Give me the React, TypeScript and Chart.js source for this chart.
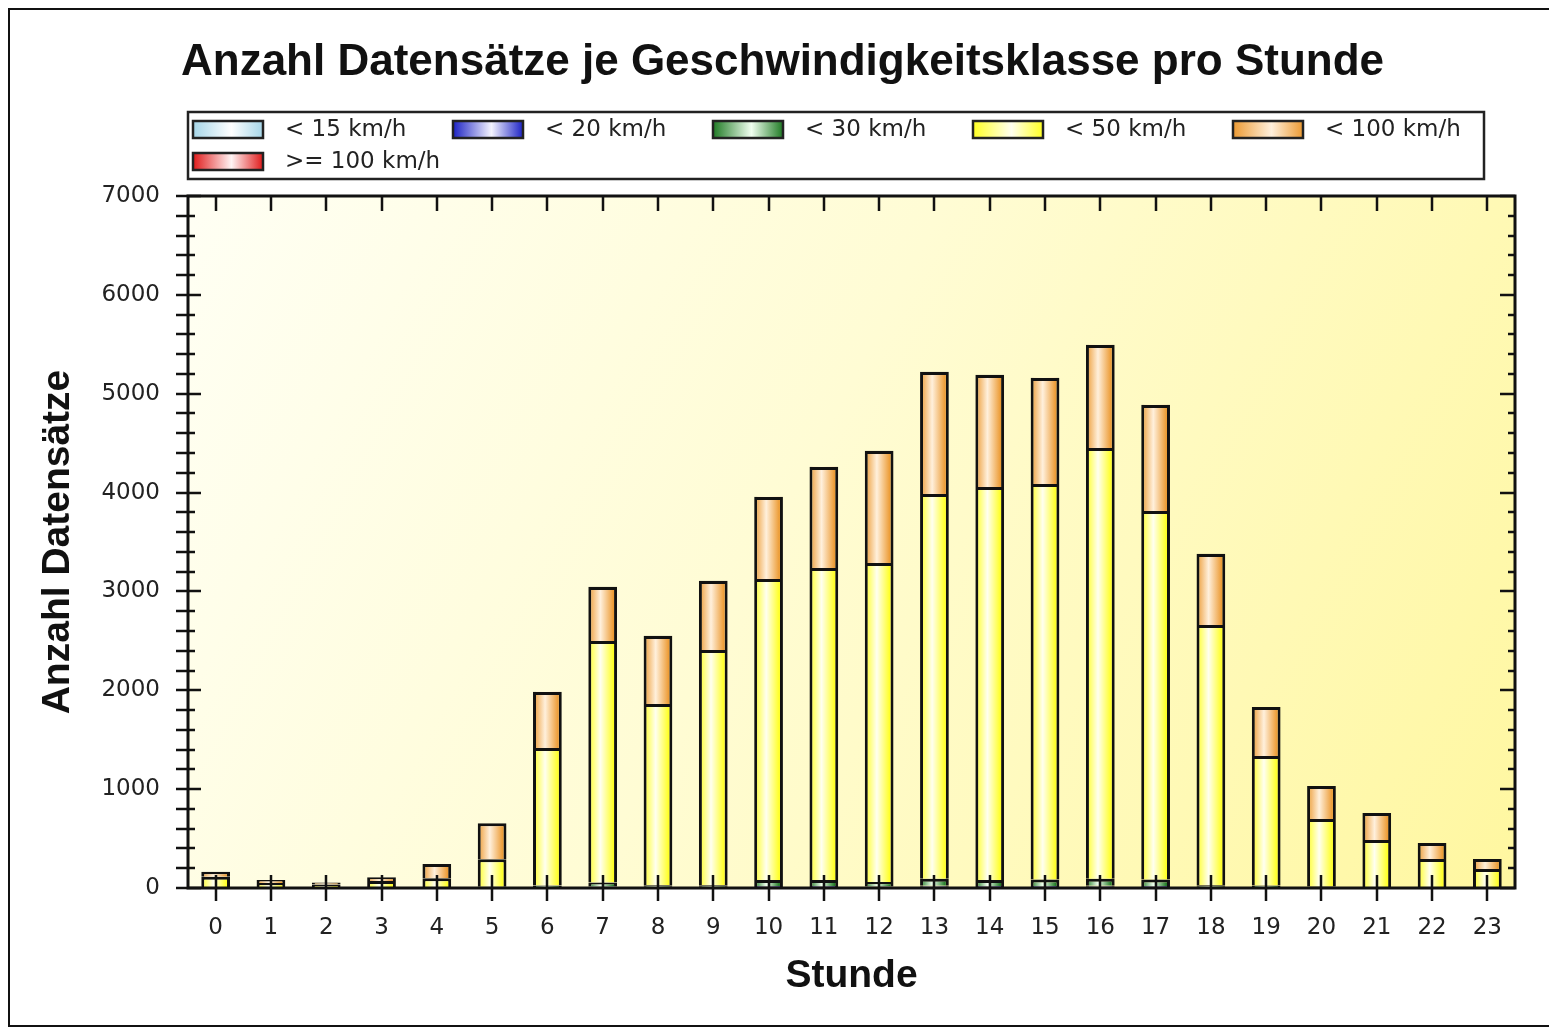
import { useEffect, useRef } from 'react';
import { Chart, registerables } from 'chart.js';

Chart.register(...registerables);

const hours = ['0', '1', '2', '3', '4', '5', '6', '7', '8', '9', '10', '11', '12', '13', '14', '15', '16', '17', '18', '19', '20', '21', '22', '23'];

const seriesLabels = ['< 15 km/h', '< 20 km/h', '< 30 km/h', '< 50 km/h', '< 100 km/h', '>= 100 km/h'];

const lt15 = [2, 1, 1, 1, 2, 3, 5, 8, 6, 6, 10, 10, 8, 12, 10, 10, 12, 10, 6, 5, 3, 2, 2, 1];
const lt20 = [2, 1, 1, 1, 2, 3, 5, 8, 6, 6, 10, 10, 8, 12, 10, 10, 12, 10, 6, 5, 3, 2, 2, 1];
const lt30 = [5, 3, 3, 3, 4, 6, 15, 40, 15, 15, 60, 60, 45, 70, 60, 65, 70, 65, 15, 15, 8, 5, 4, 3];
const lt50 = [105, 45, 30, 65, 90, 278, 1391, 2443, 1834, 2380, 3046, 3157, 3226, 3891, 3976, 4002, 4357, 3728, 2633, 1310, 684, 477, 285, 187];
const lt100 = [50, 30, 20, 38, 145, 364, 567, 546, 688, 698, 829, 1022, 1133, 1234, 1133, 1072, 1042, 1073, 718, 496, 334, 273, 162, 101];
const ge100 = [0, 0, 0, 0, 0, 1, 2, 2, 2, 2, 3, 3, 3, 3, 3, 3, 3, 3, 2, 1, 1, 0, 0, 0];

const seriesValues = [lt15, lt20, lt30, lt50, lt100, ge100];

const yMax = 7000;
const yStep = 1000;
const yMinorStep = 200;

const titleText = 'Anzahl Datensätze je Geschwindigkeitsklasse pro Stunde';
const xTitle = 'Stunde';
const yTitle = 'Anzahl Datensätze';

const edgeColors = ['#a6d6e8', '#1c22c4', '#1f7a24', '#ffff22', '#ec9a32', '#e01a1a'];
const centerColors = ['#ffffff', '#f4f4ff', '#f0fff0', '#fffff0', '#fff0dc', '#fff4f4'];

const W = 1541;
const H = 1015;
const BAR_FRACTION = 0.52;

function barGradient(ctx: any, si: number) {
  const chart = ctx.chart;
  const xs = chart.scales && chart.scales.x;
  if (!xs || ctx.type !== 'data') return edgeColors[si];
  const cx = xs.getPixelForValue(ctx.dataIndex);
  const w = (xs.width / hours.length) * BAR_FRACTION;
  if (!Number.isFinite(cx) || !Number.isFinite(w) || w <= 0) return edgeColors[si];
  const g = chart.ctx.createLinearGradient(cx - w / 2, 0, cx + w / 2, 0);
  g.addColorStop(0, edgeColors[si]);
  g.addColorStop(0.42, centerColors[si]);
  g.addColorStop(0.88, edgeColors[si]);
  g.addColorStop(1, edgeColors[si]);
  return g;
}

const backgroundPlugin = {
  id: 'plotBg',
  beforeDatasetsDraw(chart: any) {
    const { ctx, chartArea } = chart;
    const { left, right, top, bottom } = chartArea;
    ctx.save();
    const g = ctx.createLinearGradient(left, top, right, bottom);
    g.addColorStop(0, '#fffff4');
    g.addColorStop(0.45, '#fffcd4');
    g.addColorStop(1, '#fff7a0');
    ctx.fillStyle = g;
    ctx.fillRect(left, top, right - left, bottom - top);
    ctx.restore();
  },
};

const framePlugin = {
  id: 'frameTicks',
  afterDatasetsDraw(chart: any) {
    const { ctx, chartArea } = chart;
    const { left, right, top, bottom } = chartArea;
    const xs = chart.scales.x;
    const ys = chart.scales.y;
    ctx.save();
    ctx.strokeStyle = '#111';
    ctx.lineWidth = 3;
    ctx.strokeRect(left, top, right - left, bottom - top);
    ctx.lineWidth = 2.5;
    ctx.beginPath();
    for (let i = 0; i < hours.length; i++) {
      const px = Math.round(xs.getPixelForValue(i));
      ctx.moveTo(px, bottom - 13);
      ctx.lineTo(px, bottom + 13);
      ctx.moveTo(px, top);
      ctx.lineTo(px, top + 15);
    }
    for (let v = 0; v <= yMax; v += yMinorStep) {
      const py = Math.round(ys.getPixelForValue(v));
      const major = v % yStep === 0;
      ctx.moveTo(left - 12, py);
      ctx.lineTo(left + (major ? 13 : 7), py);
      ctx.moveTo(right - (major ? 15 : 7), py);
      ctx.lineTo(right, py);
    }
    ctx.stroke();
    ctx.restore();
  },
};

const titleLegendPlugin = {
  id: 'titleLegend',
  afterDraw(chart: any) {
    const { ctx } = chart;
    ctx.save();
    ctx.fillStyle = '#111';
    ctx.font = 'bold 44px "Liberation Sans", Arial, sans-serif';
    ctx.textAlign = 'center';
    ctx.textBaseline = 'alphabetic';
    ctx.fillText(titleText, W / 2 + 2, 65);

    const bx = 178, by = 102, bw = 1296, bh = 67;
    ctx.fillStyle = '#ffffff';
    ctx.fillRect(bx, by, bw, bh);
    ctx.strokeStyle = '#222';
    ctx.lineWidth = 2.5;
    ctx.strokeRect(bx, by, bw, bh);

    ctx.font = '23px "DejaVu Sans", sans-serif';
    ctx.textAlign = 'left';
    ctx.textBaseline = 'middle';
    const cols = 5;
    for (let i = 0; i < seriesLabels.length; i++) {
      const col = i % cols;
      const row = Math.floor(i / cols);
      const sx = 183 + col * 260;
      const sy = 111 + row * 32;
      const sw = 70, sh = 17;
      const g = ctx.createLinearGradient(sx, 0, sx + sw, 0);
      g.addColorStop(0, edgeColors[i]);
      g.addColorStop(0.55, centerColors[i]);
      g.addColorStop(1, edgeColors[i]);
      ctx.fillStyle = g;
      ctx.fillRect(sx, sy, sw, sh);
      ctx.strokeStyle = '#222';
      ctx.lineWidth = 2.5;
      ctx.strokeRect(sx, sy, sw, sh);
      ctx.fillStyle = '#222';
      ctx.fillText(seriesLabels[i], sx + 92, sy + sh / 2 + 1);
    }
    ctx.restore();
  },
};

export default function App() {
  const canvasRef = useRef<HTMLCanvasElement | null>(null);

  useEffect(() => {
    const canvas = canvasRef.current;
    if (!canvas) return;
    const datasets = seriesLabels.map((label, si) => ({
      label,
      data: seriesValues[si],
      backgroundColor: (ctx: any) => barGradient(ctx, si),
      borderColor: '#111',
      borderWidth: { top: 3, left: 3, right: 3, bottom: 0 },
      borderSkipped: false,
      categoryPercentage: 1,
      barPercentage: BAR_FRACTION,
    }));

    const chart = new Chart(canvas, {
      type: 'bar',
      data: { labels: hours, datasets: datasets as any },
      options: {
        responsive: false,
        animation: false,
        layout: { padding: { top: 186, left: 0, right: 36, bottom: 0 } },
        plugins: {
          legend: { display: false },
          title: { display: false },
          tooltip: { enabled: false },
        },
        scales: {
          x: {
            stacked: true,
            grid: { display: false, drawTicks: false },
            border: { display: false },
            ticks: {
              autoSkip: false,
              maxRotation: 0,
              padding: 26,
              color: '#222',
              font: { family: '"DejaVu Sans", sans-serif', size: 23 },
            },
            title: {
              display: true,
              text: xTitle,
              color: '#111',
              font: { family: '"Liberation Sans", Arial, sans-serif', size: 39, weight: 'bold' },
              padding: { top: 0, bottom: 25 },
            },
            afterFit(scale: any) {
              scale.height = H - 878;
            },
          },
          y: {
            stacked: true,
            min: 0,
            max: yMax,
            grid: { display: false, drawTicks: false },
            border: { display: false },
            ticks: {
              stepSize: yStep,
              padding: 28,
              color: '#222',
              font: { family: '"DejaVu Sans", sans-serif', size: 23 },
              callback: (v: any) => String(v),
            },
            title: {
              display: true,
              text: yTitle,
              color: '#111',
              font: { family: '"Liberation Sans", Arial, sans-serif', size: 39, weight: 'bold' },
              padding: { top: 25, bottom: 0 },
            },
            afterFit(scale: any) {
              scale.width = 178;
            },
          },
        },
      } as any,
      plugins: [backgroundPlugin, framePlugin, titleLegendPlugin],
    });
    return () => chart.destroy();
  }, []);

  return (
    <div
      style={{
        width: W + 4,
        height: H + 4,
        boxSizing: 'border-box',
        borderTop: '2px solid #111',
        borderLeft: '2px solid #111',
        borderBottom: '2px solid #111',
        borderRight: '2px solid #d8d8d8',
        background: '#ffffff',
      }}
    >
      <canvas ref={canvasRef} width={W} height={H} style={{ width: W, height: H, display: 'block' }} />
    </div>
  );
}
